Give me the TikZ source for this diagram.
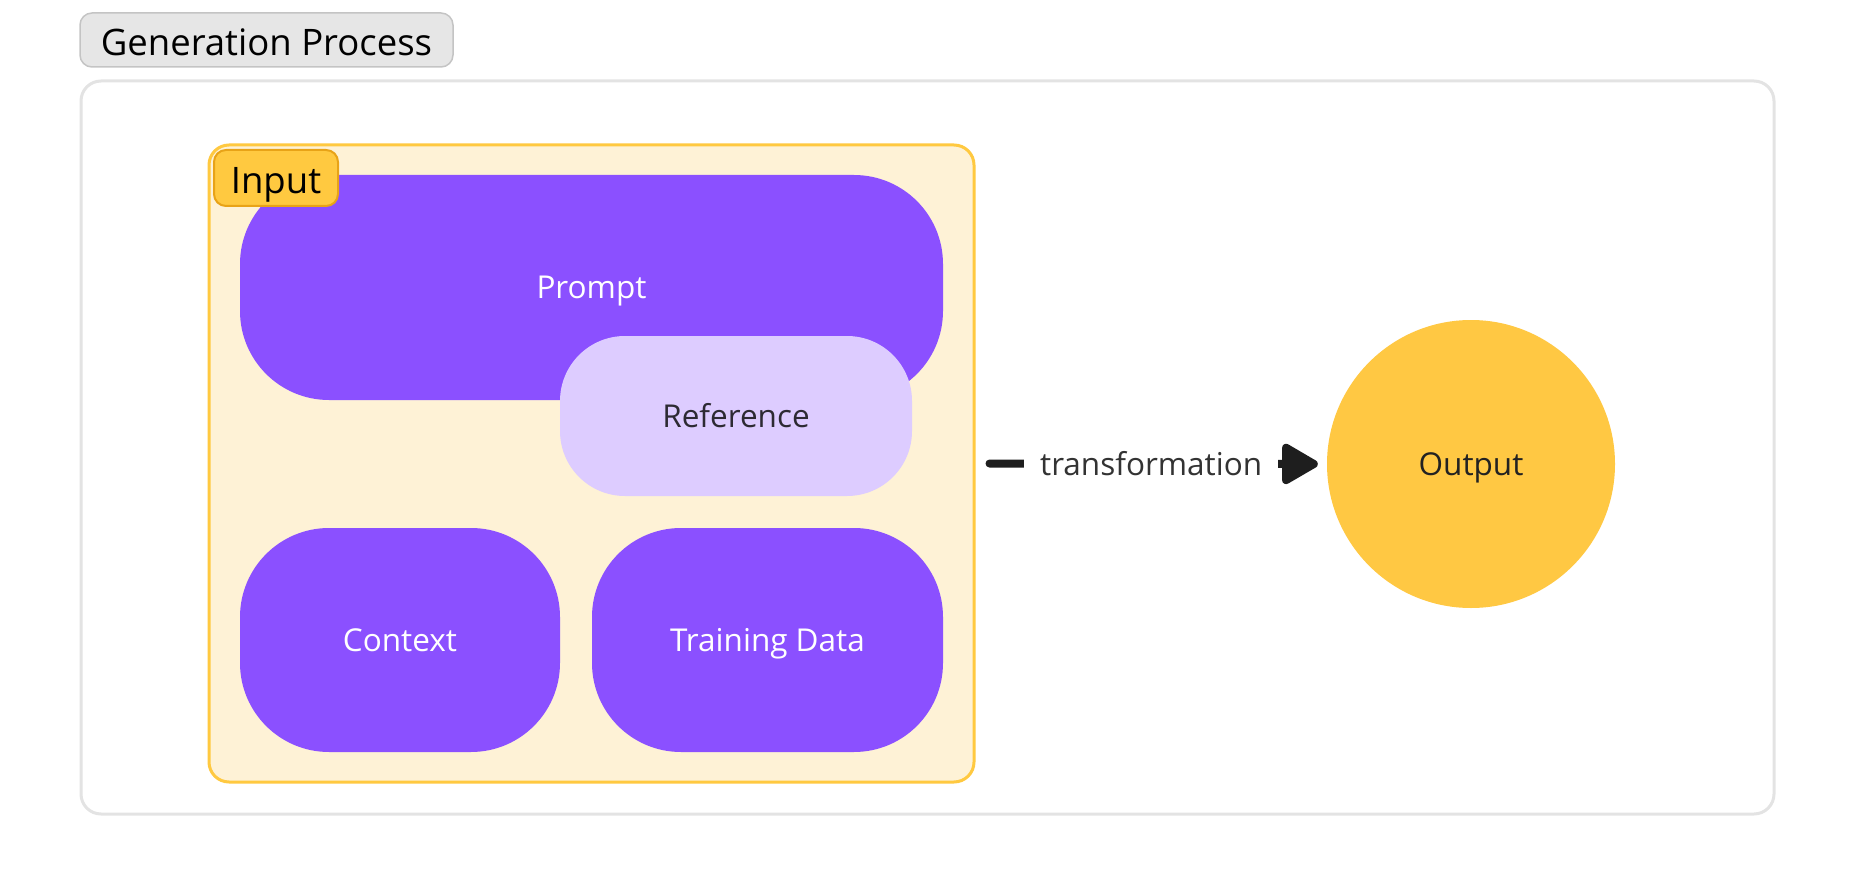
\documentclass[tikz,border=0pt]{standalone}
\usepackage{fontspec}
\setmainfont{Open Sans}
\usetikzlibrary{arrows.meta}
\definecolor{purp}{HTML}{8B50FF}
\definecolor{lilac}{HTML}{DDCCFF}
\definecolor{ylw}{HTML}{FFC843}
\definecolor{ylwbg}{HTML}{FEF2D6}
\definecolor{ylwborder}{HTML}{FFC940}
\definecolor{lblborder}{HTML}{E8A317}
\definecolor{outergray}{HTML}{E3E3E3}
\definecolor{titlefill}{HTML}{E6E6E6}
\definecolor{titleborder}{HTML}{C4C4C4}
\definecolor{darkline}{HTML}{1E1E1E}
\tikzset{
  px/.style={x=1pt,y=-1pt},
  bodyfont/.style={font=\fontsize{31.5}{36}\selectfont, text height=22.5pt, text depth=0pt},
  bigfont/.style={font=\fontsize{36.5}{42}\selectfont, text height=32pt, text depth=0pt},
  pill/.style={rounded corners=#1, inner sep=0pt, bodyfont},
  purpbox/.style={pill=89pt, fill=purp, text=white},
  refbox/.style={pill=65pt, fill=lilac, text={rgb,255:red,45;green,42;blue,51}},
}
\begin{document}
\begin{tikzpicture}[px]
\useasboundingbox (0,0) rectangle (1856,896);
% outer container
\node[draw=outergray, line width=3pt, fill=white, rounded corners=20pt,
      minimum width=1693pt, minimum height=733pt, inner sep=0pt] (outer) at (927.5,447.5) {};
\node[draw=titleborder, line width=1.5pt, fill=titlefill, rounded corners=12pt,
      minimum width=373pt, minimum height=54pt, inner sep=0pt, bigfont] (title) at (266.5,40) {Generation Process};
% input group
\node[draw=ylwborder, line width=3pt, fill=ylwbg, rounded corners=20pt,
      minimum width=765pt, minimum height=637pt, inner sep=0pt] (input) at (591.5,463.5) {};
\node[purpbox, minimum width=703pt, minimum height=225pt] (prompt) at (591.5,287.5) {Prompt};
\node[refbox, minimum width=352pt, minimum height=160pt] (ref) at (736,416) {Reference};
\node[purpbox, minimum width=320pt, minimum height=224pt] (context) at (400,640) {Context};
\node[purpbox, minimum width=351pt, minimum height=224pt] (train) at (767.5,640) {Training Data};
\node[draw=lblborder, line width=2pt, fill=ylwborder, rounded corners=12pt,
      minimum width=124pt, minimum height=56pt, inner sep=0pt, bigfont] (inlabel) at (276,178) {Input};
% output
\node[circle, fill=ylw, minimum size=288pt, inner sep=0pt, bodyfont,
      text={rgb,255:red,34;green,34;blue,34}] (output) at (1471,464) {Output};
% connector
\draw[darkline, line width=8pt, line cap=round, shorten <=14pt, shorten >=9pt,
      -{Triangle[length=40pt,width=44pt,round]}]
  (input.east) -- node[fill=white, inner xsep=16pt, inner ysep=10pt, bodyfont,
      text={rgb,255:red,51;green,51;blue,51}] (tlabel) {transformation}
  (output.west);
\end{tikzpicture}
\end{document}
